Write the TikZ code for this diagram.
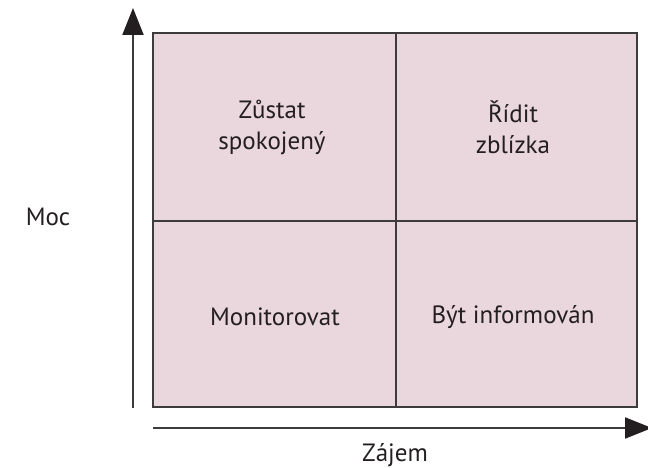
\documentclass[tikz,border=0pt]{standalone}
\usepackage{fontspec}
\setmainfont{PT Sans}
\usepackage{xcolor}
\definecolor{cellpink}{RGB}{234,214,221}
\definecolor{linegray}{RGB}{60,60,60}
\definecolor{tipblack}{RGB}{35,31,32}
\usetikzlibrary{arrows.meta}

\begin{document}
\begin{tikzpicture}[x=1pt,y=-1pt]
    \useasboundingbox (0,0) rectangle (648,468);
    \tikzset{
        quadlabel/.style={align=center, font=\fontsize{25}{31}\selectfont, text=tipblack},
        axislabel/.style={font=\fontsize{25}{31}\selectfont, text=tipblack},
        axisline/.style={line width=2pt, draw=linegray,
            -{Triangle[length=27pt,width=21pt,color=tipblack,fill=tipblack]}}
    }
    % Grid of four quadrants
    \draw[fill=cellpink, line width=1.8pt, draw=linegray] (153,33) rectangle (637,407);
    \draw[line width=1.5pt, linegray] (396,33) -- (396,407);
    \draw[line width=1.5pt, linegray] (153,221) -- (637,221);

    % Quadrant labels
    \node[quadlabel] (keep) at (272,127) {Zůstat\\spokojený};
    \node[quadlabel] (manage) at (513,127) {Řídit\\zblízka};
    \node[quadlabel] (monitor) at (275,317) {Monitorovat};
    \node[quadlabel] (inform) at (513,317) {Být informován};

    % Axes
    \coordinate (vstart) at (133,408);
    \coordinate (vend) at (133,8);
    \coordinate (hstart) at (153,428);
    \coordinate (hend) at (652,428);
    \draw[axisline] (vstart) -- (vend);
    \draw[axisline] (hstart) -- (hend);

    % Axis labels
    \node[axislabel] (power) at (48,217) {Moc};
    \node[axislabel] (interest) at (395,455) {Zájem};
\end{tikzpicture}
\end{document}
